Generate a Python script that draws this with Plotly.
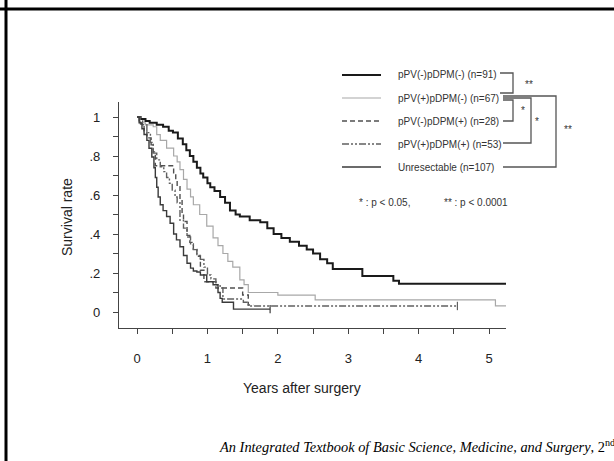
import plotly.graph_objects as go

# ---------------- data ----------------
names = ["pPV(-)pDPM(-) (n=91)", "pPV(+)pDPM(-) (n=67)", "pPV(-)pDPM(+) (n=28)",
         "pPV(+)pDPM(+) (n=53)", "Unresectable (n=107)"]

t_nn = [0, 0.05, 0.12, 0.18, 0.28, 0.37, 0.45, 0.51, 0.58, 0.65, 0.70, 0.75, 0.80, 0.85, 0.90, 0.94,
        1.00, 1.04, 1.10, 1.18, 1.25, 1.32, 1.40, 1.46, 1.60, 1.75, 1.85, 1.94, 2.05, 2.17, 2.30, 2.41,
        2.50, 2.60, 2.70, 2.78, 3.20, 3.64, 3.72, 5.24]
s_nn = [1.0, 0.99, 0.98, 0.97, 0.96, 0.95, 0.93, 0.92, 0.89, 0.86, 0.83, 0.80, 0.77, 0.74, 0.71, 0.69,
        0.66, 0.64, 0.62, 0.59, 0.56, 0.52, 0.50, 0.49, 0.47, 0.46, 0.43, 0.40, 0.38, 0.36, 0.34, 0.32,
        0.30, 0.27, 0.25, 0.22, 0.185, 0.16, 0.145, 0.145]

t_pn = [0, 0.04, 0.12, 0.23, 0.28, 0.33, 0.42, 0.52, 0.57, 0.61, 0.66, 0.71, 0.76, 0.80, 0.89, 0.99,
        1.08, 1.15, 1.22, 1.29, 1.36, 1.46, 1.52, 1.58, 2.00, 2.53, 5.09, 5.24]
s_pn = [1.0, 0.97, 0.96, 0.95, 0.91, 0.88, 0.84, 0.80, 0.77, 0.73, 0.68, 0.63, 0.59, 0.55, 0.50, 0.44,
        0.38, 0.34, 0.30, 0.26, 0.23, 0.165, 0.14, 0.10, 0.087, 0.062, 0.031, 0.031]

t_np = [0, 0.05, 0.10, 0.14, 0.20, 0.23, 0.26, 0.52, 0.55, 0.57, 0.61, 0.64, 0.66, 0.71, 0.75, 0.80,
        0.85, 0.90, 0.95, 1.12, 1.50, 1.58, 1.65]
s_np = [1.0, 0.964, 0.929, 0.893, 0.857, 0.821, 0.75, 0.714, 0.679, 0.643, 0.571, 0.5, 0.464, 0.393,
        0.357, 0.321, 0.286, 0.214, 0.155, 0.123, 0.087, 0.036, 0.036]

t_pp = [0, 0.03, 0.08, 0.14, 0.19, 0.23, 0.28, 0.33, 0.38, 0.42, 0.46, 0.50, 0.54, 0.57, 0.61, 0.66,
        0.71, 0.76, 0.80, 0.85, 0.90, 0.95, 1.00, 1.05, 1.12, 1.18, 1.22, 1.51, 1.58, 4.55]
s_pp = [1.0, 0.98, 0.96, 0.92, 0.87, 0.815, 0.78, 0.745, 0.72, 0.69, 0.66, 0.625, 0.59, 0.56, 0.47, 0.43,
        0.385, 0.35, 0.32, 0.29, 0.27, 0.23, 0.19, 0.17, 0.14, 0.123, 0.067, 0.05, 0.031, 0.031]

t_un = [0, 0.03, 0.07, 0.10, 0.14, 0.17, 0.21, 0.24, 0.26, 0.28, 0.30, 0.33, 0.37, 0.42, 0.47, 0.52,
        0.56, 0.61, 0.66, 0.71, 0.76, 0.80, 0.85, 0.90, 0.99, 1.08, 1.15, 1.18, 1.21, 1.37, 1.89]
s_un = [1.0, 0.97, 0.94, 0.91, 0.88, 0.84, 0.795, 0.74, 0.69, 0.64, 0.59, 0.55, 0.52, 0.49, 0.455, 0.40,
        0.37, 0.335, 0.29, 0.25, 0.225, 0.21, 0.205, 0.19, 0.155, 0.14, 0.10, 0.07, 0.05, 0.015, 0.015]

x_ticks = [0, 1, 2, 3, 4, 5]
y_ticks = [0, 0.2, 0.4, 0.6, 0.8, 1.0]
y_tick_labels = ["0", ".2", ".4", ".6", ".8", "1"]

# ---------------- styles ----------------
series = [(t_nn, s_nn), (t_pn, s_pn), (t_np, s_np), (t_pp, s_pp), (t_un, s_un)]
colors = ["#1a1a1a", "#a8a8a8", "#505050", "#606060", "#3a3a3a"]
widths = [2.0, 1.2, 1.4, 1.4, 1.4]
dashes = ["solid", "solid", "5px,3px", "7px,2px,2px,2px,2px,2px", "solid"]
censor = [False, False, False, True, True]

W, H = 614, 461
L, R, T, B = 119, 108, 102, 133
PW, PH = W - L - R, H - T - B


def xp(px):
    return (px - L) / PW


def yp(py):
    return (H - B - py) / PH


fig = go.Figure()
for i, (t, s) in enumerate(series):
    fig.add_trace(go.Scatter(x=t, y=s, mode="lines", line_shape="hv",
                             line=dict(color=colors[i], width=widths[i], dash=dashes[i]),
                             name=names[i], showlegend=False))
    if censor[i]:
        fig.add_trace(go.Scatter(x=[t[-1]], y=[s[-1]], mode="markers",
                                 marker=dict(symbol="line-ns-open", size=6, color=colors[i],
                                             line=dict(color=colors[i], width=1.2)),
                                 showlegend=False, hoverinfo="skip"))

shapes = []
annotations = []
font_main = "Liberation Sans, Arial, sans-serif"
txt_color = "#333333"

# manual legend
rows = [75, 98, 121, 144, 167]
for i, name in enumerate(names):
    shapes.append(dict(type="line", xref="paper", yref="paper",
                       x0=xp(342), x1=xp(381), y0=yp(rows[i]), y1=yp(rows[i]),
                       line=dict(color=colors[i], width=widths[i], dash=dashes[i])))
    annotations.append(dict(text=name, xref="paper", yref="paper", x=xp(396), y=yp(rows[i]),
                            xanchor="left", yanchor="middle", showarrow=False,
                            font=dict(family=font_main, size=10, color=txt_color)))

# significance brackets
bc = "#555555"


def bracket(y_top, y_bot, x_end, x_start=503):
    shapes.append(dict(type="path", xref="paper", yref="paper",
                       path=f"M {xp(x_start)},{yp(y_top)} L {xp(x_end)},{yp(y_top)} "
                            f"L {xp(x_end)},{yp(y_bot)} L {xp(x_start)},{yp(y_bot)}",
                       line=dict(color=bc, width=1.3)))


bracket(73, 93, 513, 500)
bracket(100, 121, 513)
bracket(98, 143, 531)
bracket(96, 167, 556)
for txt, x, y in [("**", 523, 84), ("*", 519, 110), ("*", 533, 121), ("**", 562, 129)]:
    annotations.append(dict(text=txt, xref="paper", yref="paper", x=xp(x), y=yp(y),
                            xanchor="left", yanchor="middle", showarrow=False,
                            font=dict(family=font_main, size=10, color=txt_color)))

annotations.append(dict(text="* : p < 0.05,", xref="paper", yref="paper", x=xp(357), y=yp(202),
                        xanchor="left", yanchor="middle", showarrow=False,
                        font=dict(family=font_main, size=10, color=txt_color)))
annotations.append(dict(text="** : p < 0.0001", xref="paper", yref="paper", x=xp(442), y=yp(202),
                        xanchor="left", yanchor="middle", showarrow=False,
                        font=dict(family=font_main, size=10, color=txt_color)))

# axis titles
annotations.append(dict(text="Years after surgery", xref="paper", yref="paper", x=xp(302), y=yp(388),
                        xanchor="center", yanchor="middle", showarrow=False,
                        font=dict(family=font_main, size=14, color="#222222")))
annotations.append(dict(text="Survival rate", xref="paper", yref="paper", x=xp(67), y=yp(217),
                        xanchor="center", yanchor="middle", showarrow=False, textangle=-90,
                        font=dict(family=font_main, size=14, color="#222222")))

# caption
annotations.append(dict(text="<i>An Integrated Textbook of Basic Science, Medicine, and Surgery</i>, 2<sup>nd</sup>",
                        xref="paper", yref="paper", x=xp(217), y=yp(446),
                        xanchor="left", yanchor="middle", showarrow=False,
                        font=dict(family="Liberation Serif, Times New Roman, serif", size=14.4, color="#000000")))

# slide frame
shapes.append(dict(type="line", xref="paper", yref="paper", x0=xp(0), x1=xp(W), y0=yp(9), y1=yp(9),
                   line=dict(color="#000000", width=3)))
shapes.append(dict(type="line", xref="paper", yref="paper", x0=xp(6), x1=xp(6), y0=yp(0), y1=yp(H),
                   line=dict(color="#000000", width=3)))

axis_font = dict(family=font_main, size=13, color="#222222")
fig.update_layout(
    width=W, height=H, margin=dict(l=L, r=R, t=T, b=B, autoexpand=False),
    paper_bgcolor="white", plot_bgcolor="white",
    shapes=shapes, annotations=annotations, showlegend=False,
    xaxis=dict(range=[-0.256, 5.24], tickvals=x_ticks, ticktext=[str(v) for v in x_ticks],
               showline=True, linecolor="#444444", linewidth=1.3, showgrid=False, zeroline=False,
               ticks="outside", ticklen=5, tickcolor="#444444", tickwidth=1.2,
               minor=dict(dtick=0.5, tick0=0, ticks="outside", ticklen=5, tickcolor="#444444", showgrid=False),
               tickfont=axis_font, ticklabelstandoff=13),
    yaxis=dict(range=[-0.082, 1.077], tickvals=y_ticks, ticktext=y_tick_labels,
               showline=True, linecolor="#444444", linewidth=1.3, showgrid=False, zeroline=False,
               ticks="outside", ticklen=5, tickcolor="#444444", tickwidth=1.2,
               minor=dict(dtick=0.1, tick0=0, ticks="outside", ticklen=5, tickcolor="#444444", showgrid=False),
               tickfont=axis_font, ticklabelstandoff=10),
)

fig.write_html("out.html", config={"displayModeBar": False},
               post_script="document.body.style.margin='0px';document.body.style.overflow='hidden';")
